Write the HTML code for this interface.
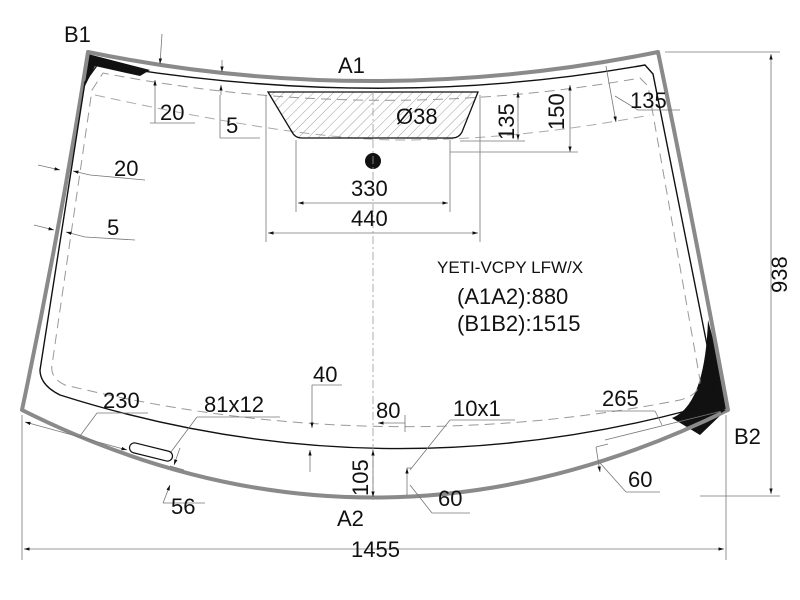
<!DOCTYPE html>
<html><head><style>body{margin:0;background:#fff}svg{display:block}text{font-family:"Liberation Sans",sans-serif;fill:#111}</style></head>
<body>
<svg width="800" height="600" viewBox="0 0 800 600" xmlns="http://www.w3.org/2000/svg">
<defs>
<pattern id="h" width="7" height="7" patternUnits="userSpaceOnUse" patternTransform="rotate(45)"><line x1="0" y1="0" x2="0" y2="7" stroke="#888" stroke-width="0.8"/></pattern>
<marker id="a" viewBox="0 0 10 10" refX="10" refY="5" markerWidth="7" markerHeight="7" orient="auto-start-reverse"><path d="M0,2 L10,5 L0,8z" fill="#111"/></marker>
</defs>
<path d="M88,54 L150,70 L140,76 L95,66 L84,88 Z" fill="#111"/>
<path d="M708,320 Q722,370 726,410 L700,435 L672,418 Q705,405 708,320Z" fill="#111"/>
<path d="M22,410 Q60,230 88,52 Q372,110 658,52 Q695,230 728,410 Q372,585 22,410Z" fill="none" stroke="#8a8a8a" stroke-width="4" stroke-linejoin="round"/>
<path d="M85,82 L98,64 Q380,112 645,65 L653,74 L712,370 Q720,405 690,410 Q372,494 60,395 Q40,385 40,370 L85,82Z" fill="none" stroke="#111" stroke-width="1.4"/>
<path d="M92,90 L103,73 Q372,125 640,78 L648,86 L700,380 Q700,395 680,400 Q372,460 65,385 Q50,378 52,365 L92,90Z" fill="none" stroke="#999" stroke-width="1" stroke-dasharray="10,6"/>
<path d="M95,95 Q300,140 400,140 Q520,140 650,115" fill="none" stroke="#aaa" stroke-width="1" stroke-dasharray="10,6"/>
<path d="M268,92 L478,92 L462,132 Q459,138 452,138 L302,138 Q295,138 292,132 Z" fill="url(#h)" stroke="#111" stroke-width="1.3"/>
<circle cx="373" cy="161" r="8" fill="#111"/>
<line x1="373" y1="92" x2="373" y2="500" stroke="#999" stroke-width="0.8" stroke-dasharray="8,3,2,3"/>
<g stroke="#777" stroke-width="0.8" fill="none">
<line x1="296" y1="140" x2="296" y2="212"/><line x1="450" y1="140" x2="450" y2="212"/>
<line x1="298" y1="203" x2="448" y2="203" marker-start="url(#a)" marker-end="url(#a)"/>
<line x1="266" y1="95" x2="266" y2="242"/><line x1="480" y1="95" x2="480" y2="242"/>
<line x1="268" y1="233" x2="478" y2="233" marker-start="url(#a)" marker-end="url(#a)"/>
<line x1="518" y1="92" x2="518" y2="140" marker-start="url(#a)" marker-end="url(#a)"/>
<line x1="460" y1="141" x2="525" y2="141"/>
<line x1="570" y1="85" x2="570" y2="152" marker-start="url(#a)" marker-end="url(#a)"/>
<line x1="450" y1="152" x2="578" y2="152"/>
<line x1="606" y1="66" x2="616" y2="122" marker-end="url(#a)"/>
<line x1="615" y1="96" x2="638" y2="110"/><line x1="638" y1="110" x2="680" y2="110"/>
<line x1="665" y1="52" x2="780" y2="52"/><line x1="700" y1="496" x2="780" y2="496"/>
<line x1="771" y1="54" x2="771" y2="494" marker-start="url(#a)" marker-end="url(#a)"/>
<line x1="22" y1="415" x2="22" y2="560"/><line x1="726" y1="415" x2="726" y2="560"/>
<line x1="24" y1="549" x2="724" y2="549" marker-start="url(#a)" marker-end="url(#a)"/>
<line x1="155" y1="80" x2="155" y2="123" marker-start="url(#a)"/><line x1="150" y1="123" x2="195" y2="123"/>
<line x1="162" y1="34" x2="160" y2="64" marker-end="url(#a)"/>
<line x1="222" y1="60" x2="222" y2="72" marker-end="url(#a)"/><line x1="221" y1="95" x2="221" y2="85" marker-end="url(#a)"/>
<line x1="220" y1="95" x2="220" y2="138"/><line x1="220" y1="138" x2="260" y2="138"/>
<line x1="38" y1="165" x2="60" y2="170" marker-end="url(#a)"/><line x1="90" y1="175" x2="73" y2="171" marker-end="url(#a)"/>
<line x1="90" y1="175" x2="145" y2="180"/>
<line x1="34" y1="225" x2="54" y2="230" marker-end="url(#a)"/><line x1="85" y1="237" x2="66" y2="232" marker-end="url(#a)"/>
<line x1="85" y1="237" x2="135" y2="240"/>
<line x1="25" y1="422" x2="127" y2="450" marker-start="url(#a)" marker-end="url(#a)"/>
<line x1="80" y1="436" x2="97" y2="413"/><line x1="97" y1="413" x2="148" y2="413"/>
<line x1="165" y1="460" x2="197" y2="417"/><line x1="197" y1="417" x2="280" y2="417"/>
<line x1="180" y1="448" x2="174" y2="465" marker-end="url(#a)"/><line x1="170" y1="466" x2="184" y2="470"/>
<line x1="163" y1="503" x2="170" y2="485" marker-end="url(#a)"/><line x1="163" y1="503" x2="205" y2="503"/>
<line x1="312" y1="385" x2="312" y2="428" marker-end="url(#a)"/><line x1="312" y1="385" x2="342" y2="385"/>
<line x1="310" y1="472" x2="310" y2="450" marker-end="url(#a)"/>
<line x1="373" y1="450" x2="373" y2="497" marker-start="url(#a)" marker-end="url(#a)"/>
<line x1="378" y1="423" x2="405" y2="423" marker-start="url(#a)"/><line x1="405" y1="415" x2="405" y2="432"/>
<line x1="407" y1="468" x2="407" y2="495" marker-start="url(#a)"/>
<line x1="407" y1="468" x2="412" y2="468"/>
<line x1="410" y1="470" x2="450" y2="420"/><line x1="450" y1="420" x2="515" y2="420"/>
<line x1="410" y1="485" x2="432" y2="513"/><line x1="432" y1="513" x2="470" y2="513"/>
<line x1="605" y1="440" x2="726" y2="410" marker-end="url(#a)"/>
<line x1="595" y1="411" x2="655" y2="411"/><line x1="655" y1="411" x2="662" y2="425"/>
<line x1="596" y1="447" x2="608" y2="444"/>
<line x1="596" y1="447" x2="600" y2="472" marker-end="url(#a)"/>
<line x1="600" y1="463" x2="626" y2="492"/><line x1="626" y1="492" x2="660" y2="492"/>
</g>
<rect x="129" y="447" width="44" height="10" rx="5" transform="rotate(14 151 452)" fill="#fff" stroke="#111" stroke-width="1.2"/>
<g font-size="22">
<text x="64" y="42">B1</text><text x="338" y="73">A1</text><text x="337" y="526">A2</text><text x="734" y="444">B2</text>
<text x="160" y="120">20</text><text x="226" y="133">5</text><text x="114" y="176">20</text><text x="107" y="235">5</text>
<text x="396" y="124">Ø38</text><text x="351" y="196">330</text><text x="351" y="226">440</text>
<text x="630" y="108">135</text>
<text x="437" y="273" font-size="17">YETI-VCPY  LFW/X</text>
<text x="457" y="304">(A1A2):880</text><text x="457" y="331">(B1B2):1515</text>
<text x="103" y="408">230</text><text x="204" y="412">81x12</text><text x="313" y="382">40</text>
<text x="376" y="418">80</text><text x="453" y="416">10x1</text><text x="602" y="406">265</text>
<text x="171" y="514">56</text><text x="438" y="506">60</text><text x="628" y="487">60</text>
<text x="351" y="557">1455</text>
<text transform="translate(514 140) rotate(-90)">135</text>
<text transform="translate(564 130) rotate(-90)">150</text>
<text transform="translate(368 496) rotate(-90)">105</text>
<text transform="translate(787 293) rotate(-90)">938</text>
</g>
</svg>
</body></html>
